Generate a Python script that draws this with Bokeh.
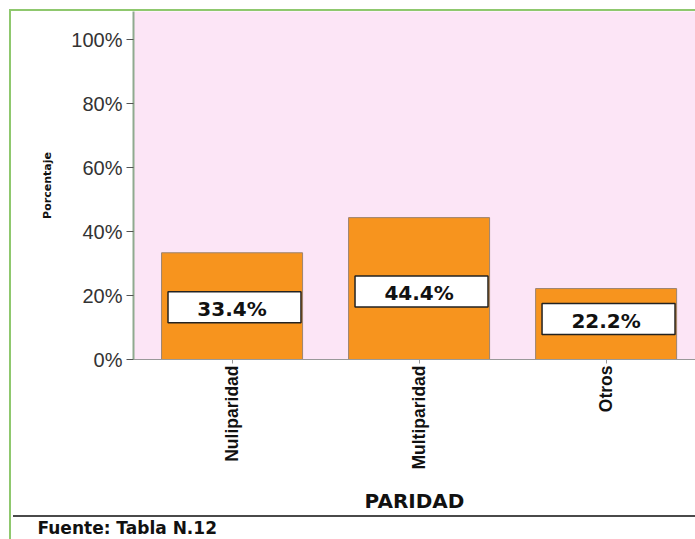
import math
from bokeh.plotting import figure
from bokeh.models import (Range1d, FixedTicker, NumeralTickFormatter, ColumnDataSource, Title)
from bokeh.core.properties import value
from bokeh.embed import file_html
from bokeh.resources import INLINE

categories = ["Nuliparidad", "Multiparidad", "Otros"]
percentages = [33.4, 44.4, 22.2]
label_texts = ["33.4%", "44.4%", "22.2%"]
label_frac = [0.49, 0.48, 0.57]
y_ticks = [0, 0.2, 0.4, 0.6, 0.8, 1.0]
source_note = "Fuente: Tabla  N.12"

idx = list(range(len(categories)))
src = ColumnDataSource(dict(
    x=idx,
    top=[v / 100 for v in percentages],
    lx=[i + 0.013 for i in idx],
    ly=[v / 100 * f for v, f in zip(percentages, label_frac)],
    txt=label_texts,
))

frame_styles = {
    "background-image": ("linear-gradient(#8FC86E,#8FC86E), linear-gradient(#8FC86E,#8FC86E), "
                         "linear-gradient(#4a4a4a,#4a4a4a)"),
    "background-position": "9px 9px, 9px 9px, 13px 515px",
    "background-size": "2px 100%, 100% 2px, 100% 2px",
    "background-repeat": "no-repeat",
    "background-color": "white",
}

p = figure(width=695, height=539, output_backend="svg", toolbar_location=None,
           x_range=Range1d(-0.527, 2.478), y_range=Range1d(0, 1.089),
           min_border_left=133, min_border_top=11, min_border_bottom=180, min_border_right=0,
           styles=frame_styles)
p.background_fill_color = "#FCE5F6"
p.border_fill_color = None
p.outline_line_color = None
p.xgrid.grid_line_color = None
p.ygrid.grid_line_color = None

p.vbar(x="x", top="top", width=0.754, source=src, fill_color="#F7941E",
       line_color="#9C8470", line_width=1)
p.rect(x="lx", y="ly", width=0.711, height=31, height_units="screen", source=src,
       fill_color="white", line_color="#222222", line_width=1.5)
p.text(x="x", y="ly", text="txt", source=src, text_align="center", text_baseline="middle",
       y_offset=2, text_font=value("DejaVu Sans"), text_font_style="bold",
       text_font_size="20px", text_color="#111111")

# y axis
ya = p.yaxis[0]
ya.ticker = FixedTicker(ticks=y_ticks)
ya.formatter = NumeralTickFormatter(format="0%")
ya.axis_line_color = "#8FAA8F"
ya.axis_line_width = 2
ya.major_tick_out = 7
ya.major_tick_in = 0
ya.major_tick_line_color = "#555555"
ya.minor_tick_line_color = None
ya.major_label_standoff = 4
ya.major_label_text_font = "Liberation Sans"
ya.major_label_text_font_size = "20px"
ya.major_label_text_color = "#333333"
ya.axis_label = "Porcentaje"
ya.axis_label_text_font = "DejaVu Sans"
ya.axis_label_text_font_style = "bold"
ya.axis_label_text_font_size = "11px"
ya.axis_label_text_color = "#111111"
ya.axis_label_standoff = 14

# x axis
xa = p.xaxis[0]
xa.ticker = FixedTicker(ticks=idx)
xa.major_label_overrides = {i: c for i, c in zip(idx, categories)}
xa.major_label_orientation = math.pi / 2
xa.axis_line_color = "#999999"
xa.axis_line_width = 1
xa.major_tick_out = 4
xa.major_tick_in = 0
xa.major_tick_line_color = "#999999"
xa.minor_tick_line_color = None
xa.major_label_standoff = 2
xa.major_label_text_font = "Liberation Sans"
xa.major_label_text_font_style = "bold"
xa.major_label_text_font_size = "17.5px"
xa.major_label_text_color = "#111111"
xa.axis_label = "PARIDAD"
xa.axis_label_text_font = "DejaVu Sans"
xa.axis_label_text_font_style = "bold"
xa.axis_label_text_font_size = "20px"
xa.axis_label_text_color = "#111111"
xa.axis_label_standoff = 16

# source note under the chart
p.add_layout(Title(text=source_note, align="left", offset=-96, standoff=0,
                   text_font="DejaVu Sans", text_font_style="bold",
                   text_font_size="17px", text_color="#111111"), "below")

open("out.html", "w").write(file_html(p, INLINE))
